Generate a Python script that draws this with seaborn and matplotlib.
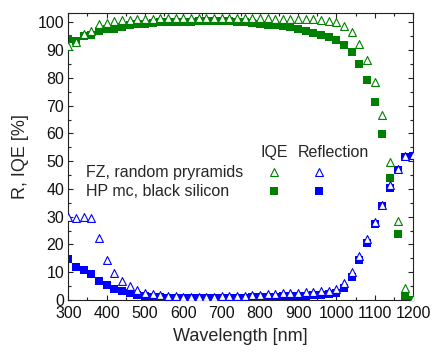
import numpy as np
import pandas as pd
import matplotlib
matplotlib.use('Agg')
import matplotlib.pyplot as plt
from matplotlib.lines import Line2D
from matplotlib.ticker import MultipleLocator
import seaborn as sns

# wavelength grid [nm]
wavelength = [300, 320, 340, 360, 380, 400, 420, 440, 460, 480,
              500, 520, 540, 560, 580, 600, 620, 640, 660, 680,
              700, 720, 740, 760, 780, 800, 820, 840, 860, 880,
              900, 920, 940, 960, 980, 1000, 1020, 1040, 1060, 1080,
              1100, 1120, 1140, 1160, 1180, 1200]

# FZ, random pyramids - IQE [%]
iqe_fz = [91.5, 93.0, 96.0, 97.0, 99.4, 99.9, 100.4, 100.8, 101.0, 101.2,
          101.3, 101.4, 101.5, 101.5, 101.6, 101.6, 101.6, 101.6, 101.6, 101.6,
          101.5, 101.5, 101.5, 101.5, 101.5, 101.5, 101.5, 101.4, 101.4, 101.4,
          101.3, 101.3, 101.2, 101.0, 100.6, 100.2, 98.8, 96.6, 92.2, 86.6,
          78.7, 66.8, 49.7, 28.3, 4.2, 0.3]

# HP mc, black silicon - IQE [%]
iqe_hp = [93.9, 93.4, 95.0, 95.5, 97.0, 97.5, 97.6, 98.4, 98.9, 99.3,
          99.6, 99.8, 100.0, 100.1, 100.2, 100.3, 100.3, 100.4, 100.4, 100.4,
          100.4, 100.4, 100.3, 100.1, 99.9, 99.6, 99.2, 98.9, 98.7, 98.3,
          97.7, 97.0, 96.3, 95.6, 94.6, 93.5, 91.8, 89.4, 85.0, 79.2,
          71.3, 59.7, 43.8, 23.6, 1.5, 0.0]

# FZ, random pyramids - reflection [%]
refl_fz = [29.8, 29.5, 29.8, 29.6, 22.4, 14.4, 9.9, 7.0, 4.9, 3.6,
           2.6, 2.2, 1.7, 1.4, 1.3, 1.2, 1.2, 1.2, 1.2, 1.2,
           1.3, 1.4, 1.5, 1.6, 1.7, 1.8, 2.0, 2.2, 2.4, 2.6,
           2.7, 2.9, 3.0, 3.1, 3.4, 4.0, 6.0, 10.0, 16.0, 22.0,
           28.0, 34.3, 41.3, 47.2, 51.8, 52.1]

# HP mc, black silicon - reflection [%]
refl_hp = [14.6, 12.0, 10.7, 9.5, 6.9, 5.3, 4.0, 3.1, 2.4, 1.9,
           1.5, 1.2, 1.0, 0.9, 0.8, 0.8, 0.8, 0.8, 0.8, 0.8,
           0.8, 0.8, 0.9, 0.9, 1.0, 1.0, 1.1, 1.2, 1.3, 1.4,
           1.5, 1.6, 1.7, 1.8, 2.0, 2.7, 4.3, 8.2, 14.4, 20.5,
           27.5, 34.0, 40.3, 47.0, 51.5, 52.0]

row_labels = ['FZ, random pryramids', 'HP mc, black silicon']
col_labels = ['IQE', 'Reflection']

green = '#008000'
blue = '#0000ff'

df = pd.DataFrame({'wl': wavelength, 'iqe_fz': iqe_fz, 'iqe_hp': iqe_hp,
                   'refl_fz': refl_fz, 'refl_hp': refl_hp})

sns.set_style('ticks')
plt.rcParams['font.family'] = ['Liberation Sans', 'DejaVu Sans']

fig = plt.figure(figsize=(4.33, 3.56), dpi=100)
ax = fig.add_axes([0.1577, 0.1573, 0.7963, 0.807])

tri = dict(marker='^', s=32, facecolor='white', linewidth=0.8, zorder=3)
sq = dict(marker='s', s=28, linewidth=0, zorder=2)

sns.scatterplot(data=df, x='wl', y='iqe_hp', color=green, ax=ax, **sq)
sns.scatterplot(data=df, x='wl', y='iqe_fz', edgecolor=green, ax=ax, **tri)
sns.scatterplot(data=df, x='wl', y='refl_hp', color=blue, ax=ax, **sq)
sns.scatterplot(data=df, x='wl', y='refl_fz', edgecolor=blue, ax=ax, **tri)

ax.set_xlim(300, 1200)
ax.set_ylim(0, 103.5)
ax.xaxis.set_major_locator(MultipleLocator(100))
ax.xaxis.set_minor_locator(MultipleLocator(50))
ax.yaxis.set_major_locator(MultipleLocator(10))
ax.yaxis.set_minor_locator(MultipleLocator(5))
ax.tick_params(which='both', direction='in', top=True, right=True,
               labelsize=11.5, color='#222222', labelcolor='#111111', width=0.8)
ax.tick_params(which='major', length=3.5)
ax.tick_params(which='minor', length=2)
ax.tick_params(axis='x', pad=4)
ax.tick_params(axis='y', pad=3)
for sp in ax.spines.values():
    sp.set_linewidth(0.8)
    sp.set_color('#222222')

ax.set_xlabel('Wavelength [nm]', fontsize=13, labelpad=5)
ax.set_ylabel('R, IQE [%]', fontsize=13, labelpad=6)

# legend table
ax.text(0.051, 0.4455, row_labels[0], transform=ax.transAxes,
        fontsize=11.5, va='center', ha='left')
ax.text(0.051, 0.3794, row_labels[1], transform=ax.transAxes,
        fontsize=11.5, va='center', ha='left')
ax.text(0.597, 0.514, col_labels[0], transform=ax.transAxes,
        fontsize=11.5, va='center', ha='center')
ax.text(0.768, 0.514, col_labels[1], transform=ax.transAxes,
        fontsize=11.5, va='center', ha='center')
keys = [(0.5976, 0.4455, '^', green, 'white'),
        (0.7273, 0.4455, '^', blue, 'white'),
        (0.5976, 0.3794, 's', green, green),
        (0.7273, 0.3794, 's', blue, blue)]
for kx, ky, m, ec, fc in keys:
    ax.add_line(Line2D([kx], [ky], marker=m, markersize=5.5,
                       markeredgecolor=ec, markerfacecolor=fc,
                       markeredgewidth=0.8 if m == '^' else 0,
                       linestyle='none', transform=ax.transAxes))

fig.savefig('out.png', dpi=100)
